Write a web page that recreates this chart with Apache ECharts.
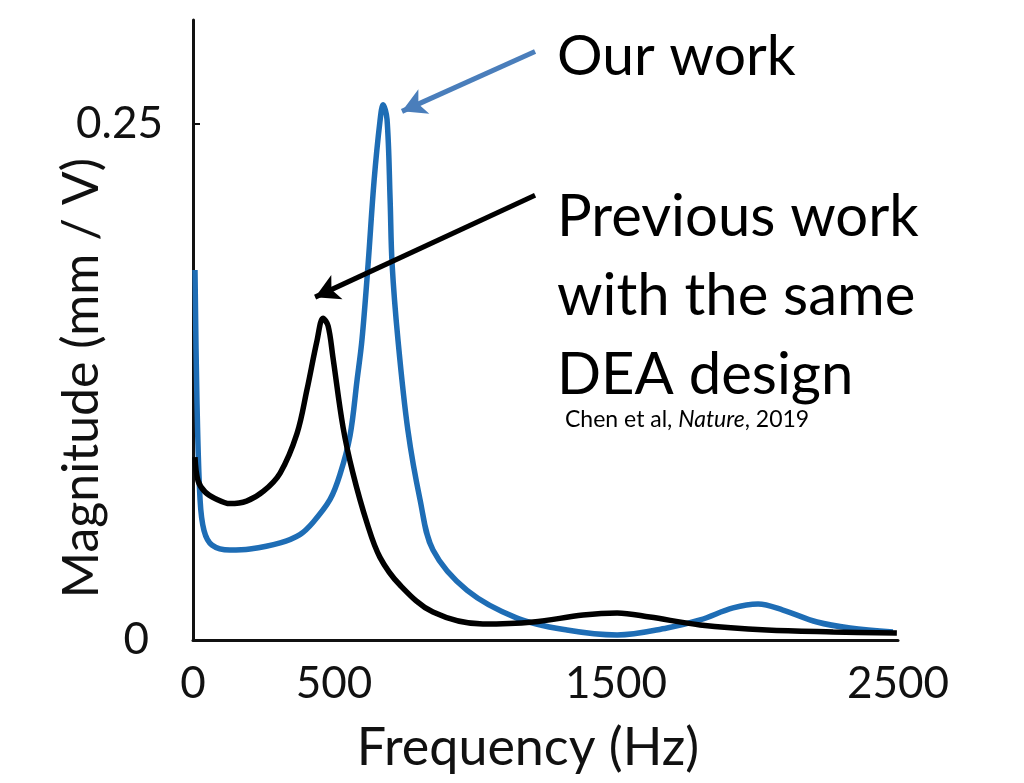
<!DOCTYPE html>
<html>
<head>
<meta charset="utf-8">
<script src="https://cdn.jsdelivr.net/npm/echarts@6/dist/echarts.min.js"></script>
<style>
html,body{margin:0;padding:0;background:#fff;}
#chart{width:1024px;height:783px;}
</style>
</head>
<body>
<div id="chart"></div>
<script>
// Data (Hz, mm/V)
const ourFreq = [7, 14, 25, 39, 67, 131, 202, 309, 379, 426, 486, 521, 557, 582, 599, 621, 642, 663, 674, 688, 699, 706, 727, 762, 805, 851, 972, 1149, 1326, 1504, 1681, 1798, 1915, 2004, 2092, 2213, 2330, 2482];
const ourMag  = [0.179, 0.116, 0.068, 0.053, 0.046, 0.0435, 0.044, 0.047, 0.051, 0.057, 0.068, 0.080, 0.099, 0.126, 0.145, 0.182, 0.222, 0.251, 0.259, 0.252, 0.213, 0.182, 0.145, 0.1015, 0.068, 0.0435, 0.024, 0.0106, 0.0048, 0.0024, 0.0058, 0.0097, 0.0155, 0.0174, 0.0145, 0.0087, 0.0058, 0.0039];
const prevFreq = [7, 18, 43, 78, 131, 190, 250, 309, 369, 404, 440, 461, 479, 496, 532, 567, 617, 663, 734, 851, 1028, 1206, 1383, 1504, 1620, 1798, 2035, 2270, 2496];
const prevMag  = [0.0885, 0.077, 0.0716, 0.0685, 0.066, 0.0672, 0.072, 0.0808, 0.100, 0.121, 0.145, 0.1557, 0.152, 0.137, 0.103, 0.0808, 0.0566, 0.040, 0.0266, 0.0135, 0.0077, 0.0087, 0.0121, 0.0131, 0.0111, 0.0073, 0.0048, 0.0039, 0.0034];
const xTicks = [0, 500, 1500, 2500];
const yTicks = [0, 0.25];
// Annotation arrow endpoints (data units): [tail, head]
const ourArrow = [[1213, 0.2848], [741, 0.2558]];
const prevArrow = [[1213, 0.2152], [433, 0.1659]];

const FONT = 'Lato';
const chart = echarts.init(document.getElementById('chart'), null, {renderer: 'canvas'});
const zip = (a, b) => a.map((v, i) => [v, b[i]]);

chart.setOption({
  animation: false,
  backgroundColor: '#fff',
  grid: {left: 193, right: 126, top: 20, bottom: 143, containLabel: false},
  xAxis: {
    type: 'value', min: 0, max: 2500,
    axisLine: {show: true, lineStyle: {color: '#111', width: 3}},
    axisTick: {show: false},
    splitLine: {show: false},
    axisLabel: {customValues: xTicks, fontFamily: FONT, fontSize: 44, color: '#111', margin: 22,
      formatter: v => String(v)}
  },
  yAxis: {
    type: 'value', min: 0, max: 0.3,
    axisLine: {show: true, lineStyle: {color: '#111', width: 3}},
    axisTick: {show: true, inside: true, length: 7, customValues: [0.25], lineStyle: {color: '#111', width: 2}},
    splitLine: {show: false},
    axisLabel: {customValues: yTicks, fontFamily: FONT, fontSize: 44, color: '#111', margin: 30,
      formatter: v => (v === 0 ? '{z|0}' : String(v)),
      rich: {z: {fontFamily: FONT, fontSize: 44, color: '#111', padding: [0, 14, 0, 0]}}}
  },
  series: [
    {
      name: 'Our work', type: 'line', data: zip(ourFreq, ourMag), smooth: 0.35, showSymbol: false,
      lineStyle: {color: '#1e6db5', width: 5.5}, z: 3,
      markLine: {
        silent: true, symbol: ['none', 'arrow'], symbolSize: [20, 24],
        lineStyle: {color: '#4a7ebb', width: 5, type: 'solid'}, label: {show: false},
        data: [[{coord: ourArrow[0]}, {coord: ourArrow[1]}]]
      }
    },
    {
      name: 'Previous work', type: 'line', data: zip(prevFreq, prevMag), smooth: 0.35, showSymbol: false,
      lineStyle: {color: '#000', width: 5.5}, z: 4,
      markLine: {
        silent: true, symbol: ['none', 'arrow'], symbolSize: [20, 24],
        lineStyle: {color: '#000', width: 5, type: 'solid'}, label: {show: false},
        data: [[{coord: prevArrow[0]}, {coord: prevArrow[1]}]]
      }
    }
  ],
  graphic: [
    {type: 'text', x: 82, y: 378, rotation: Math.PI / 2, style: {text: 'Magnitude (mm / V)', font: '50px Lato', fill: '#111', align: 'center', verticalAlign: 'middle'}},
    {type: 'text', x: 528, y: 748, style: {text: 'Frequency (Hz)', font: '52px Lato', fill: '#111', align: 'center', verticalAlign: 'middle'}},
    {type: 'text', left: 557, top: 28, style: {text: 'Our work', font: '57px Lato', fill: '#000'}},
    {type: 'text', left: 557, top: 178, style: {text: 'Previous work\nwith the same\nDEA design', font: '58px Lato', fill: '#000', lineHeight: 79}},
    {type: 'text', left: 565, top: 408, style: {
      text: '{n|Chen et al, }{i|Nature}{n|, 2019}',
      rich: {n: {fontFamily: FONT, fontSize: 23, fill: '#000'}, i: {fontFamily: FONT, fontSize: 23, fontStyle: 'italic', fill: '#000'}}
    }}
  ]
});
</script>
</body>
</html>
